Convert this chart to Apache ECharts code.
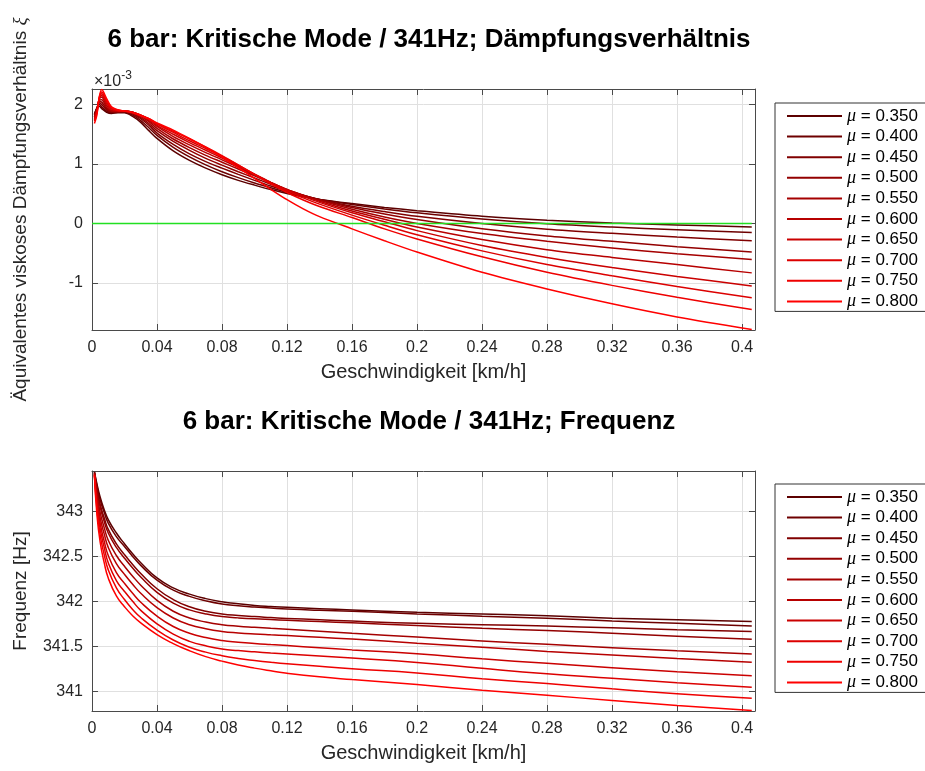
<!DOCTYPE html>
<html>
<head>
<meta charset="utf-8">
<script src="https://cdn.jsdelivr.net/npm/echarts@6/dist/echarts.min.js"></script>
<style>
  html, body { margin: 0; padding: 0; background: #ffffff; }
  #chart { width: 925px; height: 771px; }
</style>
</head>
<body>
<div id="chart"></div>
<script>
// Friction coefficients (one curve per value)
const muLabels = ['0.350', '0.400', '0.450', '0.500', '0.550', '0.600', '0.650', '0.700', '0.750', '0.800'];
const muColors = ['#5c0000', '#6e0000', '#800000', '#930000', '#a50000', '#b70000', '#ca0000', '#dc0000', '#ee0000', '#ff0000'];

// Shared tick positions
const speedTicks = [0, 0.04, 0.08, 0.12, 0.16, 0.2, 0.24, 0.28, 0.32, 0.36, 0.4];
const dampingTicks = [-1, 0, 1, 2];
const freqTicks = [341, 341.5, 342, 342.5, 343];

// Upper plot: equivalent viscous damping ratio (x 1e-3) vs. speed [km/h]
const dampingSpeed = [0.0015, 0.003, 0.0045, 0.006, 0.009, 0.012, 0.016, 0.02, 0.025, 0.03, 0.035, 0.04, 0.05, 0.06, 0.07,
  0.08, 0.09, 0.10, 0.11, 0.12, 0.13, 0.14, 0.16, 0.18, 0.20, 0.24, 0.28, 0.32, 0.36, 0.406];
const damping035 = [1.84, 1.94, 1.97, 1.93, 1.87, 1.85, 1.86, 1.86, 1.80, 1.70, 1.56, 1.43, 1.22, 1.06, 0.93, 0.82, 0.725, 0.645, 0.57, 0.505, 0.45, 0.405, 0.335, 0.27, 0.215, 0.12, 0.055, 0.01, -0.025, -0.057];
const damping040 = [1.83, 1.94, 2.00, 1.96, 1.89, 1.86, 1.87, 1.87, 1.82, 1.73, 1.61, 1.48, 1.28, 1.12, 0.985, 0.87, 0.77, 0.68, 0.60, 0.525, 0.46, 0.405, 0.32, 0.245, 0.18, 0.075, -0.005, -0.06, -0.105, -0.15];
const damping045 = [1.82, 1.93, 2.03, 2.00, 1.91, 1.87, 1.87, 1.88, 1.84, 1.76, 1.65, 1.52, 1.33, 1.17, 1.04, 0.93, 0.825, 0.725, 0.63, 0.545, 0.47, 0.405, 0.29, 0.20, 0.12, 0.00, -0.095, -0.165, -0.228, -0.29];
const damping050 = [1.80, 1.92, 2.05, 2.04, 1.93, 1.88, 1.88, 1.88, 1.85, 1.78, 1.68, 1.56, 1.38, 1.23, 1.095, 0.98, 0.87, 0.765, 0.66, 0.56, 0.475, 0.40, 0.27, 0.16, 0.065, -0.09, -0.21, -0.30, -0.39, -0.48];
const damping055 = [1.79, 1.91, 2.07, 2.08, 1.95, 1.89, 1.88, 1.89, 1.86, 1.80, 1.71, 1.60, 1.42, 1.275, 1.145, 1.03, 0.915, 0.80, 0.685, 0.57, 0.475, 0.39, 0.24, 0.11, 0.00, -0.17, -0.30, -0.41, -0.51, -0.605];
const damping060 = [1.78, 1.90, 2.09, 2.12, 1.98, 1.90, 1.89, 1.89, 1.87, 1.81, 1.73, 1.63, 1.46, 1.32, 1.19, 1.07, 0.945, 0.815, 0.69, 0.57, 0.47, 0.375, 0.21, 0.07, -0.06, -0.27, -0.44, -0.57, -0.69, -0.83];
const damping065 = [1.76, 1.89, 2.10, 2.15, 2.01, 1.92, 1.89, 1.89, 1.87, 1.82, 1.75, 1.65, 1.50, 1.36, 1.23, 1.10, 0.965, 0.83, 0.69, 0.565, 0.455, 0.355, 0.18, 0.03, -0.12, -0.37, -0.57, -0.74, -0.89, -1.05];
const damping070 = [1.74, 1.87, 2.11, 2.18, 2.04, 1.93, 1.90, 1.89, 1.87, 1.82, 1.76, 1.67, 1.53, 1.39, 1.26, 1.125, 0.98, 0.83, 0.68, 0.55, 0.43, 0.325, 0.14, -0.03, -0.19, -0.46, -0.69, -0.88, -1.06, -1.25];
const damping075 = [1.72, 1.85, 2.12, 2.21, 2.07, 1.95, 1.90, 1.89, 1.87, 1.82, 1.76, 1.68, 1.55, 1.42, 1.285, 1.14, 0.985, 0.825, 0.665, 0.52, 0.395, 0.285, 0.10, -0.09, -0.26, -0.56, -0.82, -1.04, -1.24, -1.445];
const damping080 = [1.68, 1.82, 2.13, 2.25, 2.10, 1.96, 1.91, 1.89, 1.86, 1.81, 1.76, 1.69, 1.57, 1.43, 1.28, 1.115, 0.94, 0.76, 0.575, 0.40, 0.245, 0.115, -0.09, -0.29, -0.48, -0.82, -1.10, -1.35, -1.57, -1.78];
const dampingRows = [damping035, damping040, damping045, damping050, damping055, damping060, damping065, damping070, damping075, damping080];

// Stability limit (zero damping)
const zeroLineSpeed = [0, 0.406];
const zeroLineValue = [0, 0];

// Lower plot: frequency [Hz] vs. speed [km/h]
const freqSpeed = [0.0015, 0.003, 0.005, 0.0075, 0.01, 0.015, 0.02, 0.025, 0.03, 0.04, 0.05, 0.06, 0.07, 0.08, 0.09, 0.10,
  0.11, 0.12, 0.14, 0.16, 0.20, 0.24, 0.28, 0.32, 0.36, 0.406];
const freq035 = [343.44, 343.31, 343.16, 343.02, 342.91, 342.76, 342.64, 342.53, 342.43, 342.26, 342.15, 342.08, 342.03, 341.995, 341.972, 341.955, 341.943, 341.933, 341.918, 341.905, 341.878, 341.86, 341.84, 341.813, 341.795, 341.775];
const freq040 = [343.44, 343.29, 343.13, 342.99, 342.87, 342.72, 342.61, 342.50, 342.40, 342.235, 342.125, 342.055, 342.005, 341.97, 341.951, 341.937, 341.925, 341.914, 341.90, 341.89, 341.86, 341.835, 341.812, 341.782, 341.755, 341.727];
const freq045 = [343.43, 343.26, 343.08, 342.93, 342.80, 342.64, 342.52, 342.41, 342.31, 342.14, 342.02, 341.94, 341.89, 341.86, 341.843, 341.83, 341.82, 341.81, 341.795, 341.78, 341.755, 341.74, 341.725, 341.705, 341.685, 341.664];
const freq050 = [343.43, 343.24, 343.05, 342.89, 342.76, 342.60, 342.48, 342.37, 342.27, 342.10, 341.98, 341.905, 341.86, 341.83, 341.816, 341.805, 341.797, 341.79, 341.775, 341.762, 341.73, 341.70, 341.675, 341.645, 341.612, 341.579];
const freq055 = [343.42, 343.20, 342.99, 342.82, 342.68, 342.51, 342.39, 342.28, 342.18, 342.01, 341.89, 341.815, 341.77, 341.74, 341.723, 341.711, 341.70, 341.69, 341.668, 341.645, 341.602, 341.56, 341.522, 341.485, 341.45, 341.413];
const freq060 = [343.42, 343.16, 342.93, 342.75, 342.60, 342.42, 342.30, 342.19, 342.09, 341.93, 341.815, 341.74, 341.695, 341.665, 341.648, 341.636, 341.627, 341.619, 341.60, 341.58, 341.535, 341.49, 341.443, 341.403, 341.363, 341.321];
const freq065 = [343.41, 343.12, 342.87, 342.67, 342.51, 342.32, 342.20, 342.09, 341.99, 341.835, 341.72, 341.645, 341.597, 341.565, 341.546, 341.531, 341.519, 341.508, 341.484, 341.46, 341.417, 341.36, 341.31, 341.262, 341.217, 341.173];
const freq070 = [343.41, 343.08, 342.81, 342.60, 342.43, 342.23, 342.11, 342.00, 341.90, 341.75, 341.635, 341.555, 341.505, 341.47, 341.452, 341.438, 341.425, 341.414, 341.392, 341.37, 341.32, 341.255, 341.195, 341.145, 341.095, 341.044];
const freq075 = [343.40, 343.03, 342.74, 342.52, 342.35, 342.15, 342.02, 341.91, 341.82, 341.68, 341.57, 341.49, 341.435, 341.395, 341.365, 341.342, 341.322, 341.305, 341.277, 341.25, 341.204, 341.14, 341.085, 341.027, 340.972, 340.922];
const freq080 = [343.40, 342.97, 342.66, 342.43, 342.26, 342.06, 341.94, 341.84, 341.76, 341.63, 341.53, 341.45, 341.385, 341.335, 341.292, 341.257, 341.227, 341.20, 341.16, 341.13, 341.074, 341.01, 340.955, 340.897, 340.842, 340.785];
const freqRows = [freq035, freq040, freq045, freq050, freq055, freq060, freq065, freq070, freq075, freq080];

const FONT = '"Liberation Sans", Arial, Helvetica, sans-serif';
const SERIF = '"Liberation Serif", "DejaVu Serif", serif';
const AXIS_COLOR = '#4a4a4a';
const TEXT_COLOR = '#262626';
const GRID_COLOR = '#e0e0e0';

function pairs(xs, ys) {
  return xs.map((x, i) => [x, ys[i]]);
}

function trimNumber(v) {
  return String(+Number(v).toFixed(3));
}

function mainAxisX(gridIndex, name) {
  return {
    type: 'value', gridIndex, position: 'bottom', min: 0, max: 0.408,
    name, nameLocation: 'middle', nameGap: 32, nameMoveOverlap: false,
    nameTextStyle: { fontFamily: FONT, fontSize: 20, color: TEXT_COLOR },
    axisLine: { show: true, onZero: false, lineStyle: { color: AXIS_COLOR, width: 1 } },
    axisTick: { show: true, inside: true, length: 6, customValues: speedTicks, lineStyle: { color: AXIS_COLOR } },
    axisLabel: { customValues: speedTicks, margin: 10, fontFamily: FONT, fontSize: 16, color: TEXT_COLOR, formatter: trimNumber },
    splitLine: { show: true, lineStyle: { color: GRID_COLOR, width: 1 } }
  };
}

function mirrorAxisX(gridIndex) {
  return {
    type: 'value', gridIndex, position: 'top', min: 0, max: 0.408,
    axisLine: { show: true, onZero: false, lineStyle: { color: AXIS_COLOR, width: 1 } },
    axisTick: { show: true, inside: true, length: 6, customValues: speedTicks, lineStyle: { color: AXIS_COLOR } },
    axisLabel: { show: false },
    splitLine: { show: false }
  };
}

function mainAxisY(gridIndex, min, max, ticks, name, nameRich) {
  return {
    type: 'value', gridIndex, position: 'left', min, max,
    name, nameLocation: 'middle', nameGap: 62, nameMoveOverlap: false,
    nameTextStyle: { fontFamily: FONT, fontSize: 19, color: TEXT_COLOR, rich: nameRich },
    axisLine: { show: true, onZero: false, lineStyle: { color: AXIS_COLOR, width: 1 } },
    axisTick: { show: true, inside: true, length: 6, customValues: ticks, lineStyle: { color: AXIS_COLOR } },
    axisLabel: { customValues: ticks, margin: 9, fontFamily: FONT, fontSize: 16, color: TEXT_COLOR, formatter: trimNumber },
    splitLine: { show: true, lineStyle: { color: GRID_COLOR, width: 1 } }
  };
}

function mirrorAxisY(gridIndex, min, max, ticks) {
  return {
    type: 'value', gridIndex, position: 'right', min, max,
    axisLine: { show: true, onZero: false, lineStyle: { color: AXIS_COLOR, width: 1 } },
    axisTick: { show: true, inside: true, length: 6, customValues: ticks, lineStyle: { color: AXIS_COLOR } },
    axisLabel: { show: false },
    splitLine: { show: false }
  };
}

function legendBlock(top) {
  return {
    orient: 'vertical', left: 775, top,
    padding: [4, 12, 1, 12],
    itemWidth: 55, itemHeight: 2, itemGap: 2.6, icon: 'rect',
    borderColor: '#333333', borderWidth: 1, backgroundColor: '#ffffff',
    selectedMode: false,
    data: muLabels,
    formatter: name => '{m|μ} = ' + name,
    textStyle: {
      fontFamily: FONT, fontSize: 17, color: '#000000', lineHeight: 12,
      rich: { m: { fontFamily: SERIF, fontStyle: 'italic', fontSize: 18, lineHeight: 12, color: '#000000' } }
    }
  };
}

const series = [];
muLabels.forEach((mu, i) => {
  series.push({
    name: mu, type: 'line', xAxisIndex: 0, yAxisIndex: 0,
    data: pairs(dampingSpeed, dampingRows[i]),
    showSymbol: false, symbol: 'none', smooth: 0.3,
    lineStyle: { color: muColors[i], width: 1.5 }, itemStyle: { color: muColors[i] },
    emphasis: { disabled: true }, animation: false
  });
});
series.push({
  name: 'xi = 0', type: 'line', xAxisIndex: 0, yAxisIndex: 0,
  data: pairs(zeroLineSpeed, zeroLineValue),
  showSymbol: false, symbol: 'none',
  lineStyle: { color: '#22e022', width: 1.3 }, itemStyle: { color: '#22e022' },
  emphasis: { disabled: true }, animation: false
});
muLabels.forEach((mu, i) => {
  series.push({
    name: mu, type: 'line', xAxisIndex: 2, yAxisIndex: 2,
    data: pairs(freqSpeed, freqRows[i]),
    showSymbol: false, symbol: 'none', smooth: 0.5,
    lineStyle: { color: muColors[i], width: 1.5 }, itemStyle: { color: muColors[i] },
    emphasis: { disabled: true }, animation: false
  });
});

const option = {
  animation: false,
  backgroundColor: '#ffffff',
  textStyle: { fontFamily: FONT },
  title: [
    { text: '6 bar: Kritische Mode / 341Hz; Dämpfungsverhältnis', left: 424, top: 22, textAlign: 'center',
      textStyle: { fontFamily: FONT, fontSize: 26, fontWeight: 'bold', color: '#000000' } },
    { text: '6 bar: Kritische Mode / 341Hz; Frequenz', left: 424, top: 404, textAlign: 'center',
      textStyle: { fontFamily: FONT, fontSize: 26, fontWeight: 'bold', color: '#000000' } }
  ],
  grid: [
    { left: 92, top: 89, width: 663, height: 241, outerBoundsMode: 'none' },
    { left: 92, top: 471, width: 663, height: 240, outerBoundsMode: 'none' }
  ],
  xAxis: [
    mainAxisX(0, 'Geschwindigkeit [km/h]'),
    mirrorAxisX(0),
    mainAxisX(1, 'Geschwindigkeit [km/h]'),
    mirrorAxisX(1)
  ],
  yAxis: [
    mainAxisY(0, -1.79, 2.26, dampingTicks, 'Äquivalentes viskoses Dämpfungsverhältnis {x|ξ}',
      { x: { fontFamily: SERIF, fontStyle: 'italic', fontSize: 19, color: TEXT_COLOR } }),
    mirrorAxisY(0, -1.79, 2.26, dampingTicks),
    mainAxisY(1, 340.78, 343.45, freqTicks, 'Frequenz [Hz]', {}),
    mirrorAxisY(1, 340.78, 343.45, freqTicks)
  ],
  legend: [legendBlock(103), legendBlock(484)],
  graphic: [
    { type: 'text', left: 94, top: 70,
      style: { text: '{a|×10}{b|-3}', rich: {
        a: { fontFamily: FONT, fontSize: 16, fill: TEXT_COLOR, color: TEXT_COLOR, verticalAlign: 'bottom' },
        b: { fontFamily: FONT, fontSize: 12, fill: TEXT_COLOR, color: TEXT_COLOR, verticalAlign: 'top', padding: [0, 0, 8, 0] }
      } } }
  ],
  series
};

const chart = echarts.init(document.getElementById('chart'), null, { renderer: 'canvas' });
chart.setOption(option);
</script>
</body>
</html>
